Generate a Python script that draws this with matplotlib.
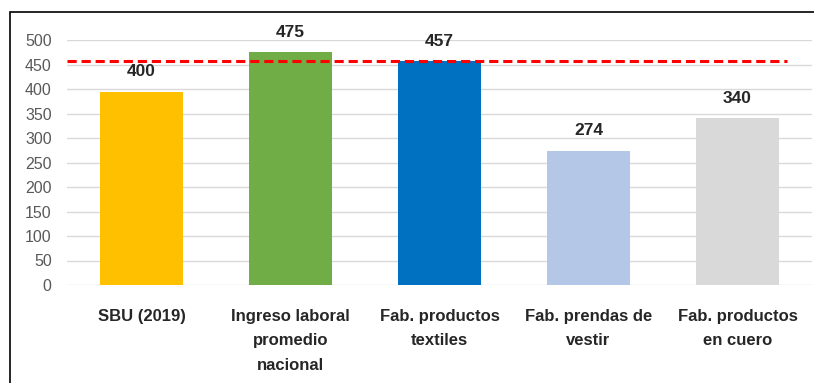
import matplotlib.pyplot as plt
from matplotlib.patches import Rectangle

# data
categories = ["SBU (2019)", "Ingreso laboral\npromedio\nnacional", "Fab. productos\ntextiles",
              "Fab. prendas de\nvestir", "Fab. productos\nen cuero"]
values = [394, 475, 457, 274, 340]
value_labels = ["400", "475", "457", "274", "340"]
reference_line = 457
colors = ["#ffc000", "#70ad47", "#0070c0", "#b4c7e7", "#d9d9d9"]

plt.rcParams['font.family'] = ['Liberation Sans', 'DejaVu Sans']

fig = plt.figure(figsize=(8.14, 3.83), dpi=100)
ax = fig.add_axes([67 / 814, 1 - 285 / 383, 745 / 814, 245 / 383])

x = range(len(categories))
ax.bar(x, values, width=0.56, color=colors, zorder=2)
for xi, v, lab in zip(x, values, value_labels):
    ax.annotate(lab, (xi, v), xytext=(0, 9), textcoords='offset points',
                ha='center', va='bottom', fontsize=12.5, fontweight='bold', color='#262626')

ax.plot([-0.5, 4.33], [reference_line, reference_line], color='red', linestyle=(0, (3, 1.6)),
        linewidth=2.2, zorder=3, clip_on=False)

ax.set_xlim(-0.5, 4.5)
ax.set_ylim(0, 500)
ax.set_yticks(range(0, 501, 50))
ax.yaxis.grid(True, color='#d9d9d9', linewidth=1)
ax.set_axisbelow(True)
for s in ax.spines.values():
    s.set_visible(False)
ax.tick_params(axis='y', length=0, pad=11, labelsize=11.5, labelcolor='#595959')
ax.tick_params(axis='x', length=0, pad=17)
ax.set_xticks(list(x))
ax.set_xticklabels(categories, fontsize=12, fontweight='bold', color='#262626', linespacing=1.8)

# frame around the figure
fig.add_artist(Rectangle((10 / 814, -0.1), 1.2, 1.1 - 12 / 383, transform=fig.transFigure,
                         fill=False, edgecolor='black', linewidth=1.2))

fig.savefig("out.png", dpi=100)
